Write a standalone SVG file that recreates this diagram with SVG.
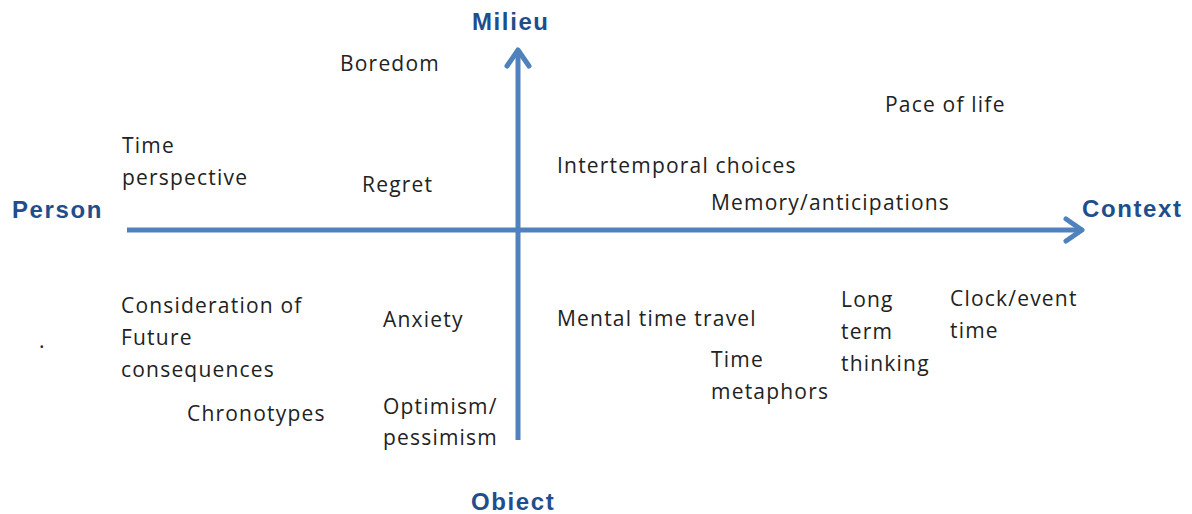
<svg xmlns="http://www.w3.org/2000/svg" width="1192" height="514" viewBox="0 0 1192 514">
<style>
.t{font-family:"Open Sans","Liberation Sans",sans-serif;font-size:21px;letter-spacing:1.2px;fill:#222}
.a{font-family:"Liberation Sans",Arial,sans-serif;font-size:24px;letter-spacing:1.6px;font-weight:bold;fill:#1f4e8c}
.ax{stroke:#4f81bd;stroke-width:5;fill:none}
.ah{stroke:#4f81bd;stroke-width:5;fill:none;stroke-linecap:round;stroke-linejoin:round}
</style>
<rect width="1192" height="514" fill="#fff"/>
<g id="connectors">
<line class="ax" x1="127" y1="230" x2="1082" y2="230"/>
<polyline class="ah" points="1066,219 1082,230 1066,241"/>
<line class="ax" x1="518" y1="440" x2="518" y2="50"/>
<polyline class="ah" points="507,66 518,50 529,66"/>
</g>
<g id="axis-labels">
<text id="milieu" class="a" x="472" y="30">Milieu</text>
<text id="person" class="a" x="12" y="218">Person</text>
<text id="context" class="a" x="1082" y="217">Context</text>
<text id="object" class="a" x="471" y="510">Obiect</text>
</g>
<g id="boredom"><text class="t" x="340" y="71">Boredom</text></g>
<g id="pace"><text class="t" x="885" y="112">Pace of life</text></g>
<g id="timeperspective"><text class="t" x="122" y="153">Time</text><text class="t" x="122" y="185">perspective</text></g>
<g id="regret"><text class="t" x="362" y="192">Regret</text></g>
<g id="intertemporal"><text class="t" x="557" y="173">Intertemporal choices</text></g>
<g id="memory"><text class="t" x="711" y="210">Memory/anticipations</text></g>
<g id="cfc"><text class="t" x="121" y="313">Consideration of</text><text class="t" x="121" y="345">Future</text><text class="t" x="121" y="377">consequences</text></g>
<g id="dot"><text class="t" x="39" y="348">.</text></g>
<g id="anxiety"><text class="t" x="383" y="327">Anxiety</text></g>
<g id="mtt"><text class="t" x="557" y="326">Mental time travel</text></g>
<g id="longterm"><text class="t" x="841" y="307">Long</text><text class="t" x="841" y="339">term</text><text class="t" x="841" y="371">thinking</text></g>
<g id="clock"><text class="t" x="950" y="306">Clock/event</text><text class="t" x="950" y="338">time</text></g>
<g id="metaphors"><text class="t" x="711" y="367">Time</text><text class="t" x="711" y="399">metaphors</text></g>
<g id="chronotypes"><text class="t" x="187" y="421">Chronotypes</text></g>
<g id="optimism"><text class="t" x="383" y="414">Optimism/</text><text class="t" x="383" y="445">pessimism</text></g>
</svg>
